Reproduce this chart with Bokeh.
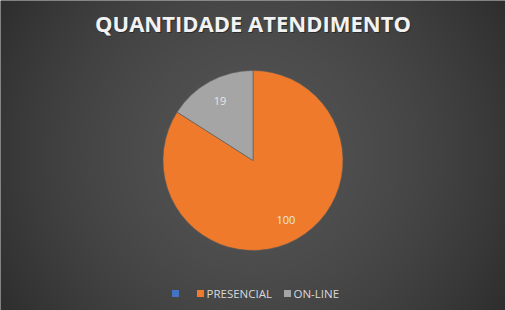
import numpy as np
from bokeh.plotting import figure
from bokeh.models import ColumnDataSource
from bokeh.core.properties import value
from bokeh.embed import file_html
from bokeh.resources import INLINE

# ---- data ----
title = "QUANTIDADE ATENDIMENTO"
categories = ["", "PRESENCIAL", "ON-LINE"]
values = [0, 100, 19]
colors = ["#4472C4", "#F07A2B", "#A5A5A5"]

W, H = 505, 310
p = figure(width=W, height=H, x_range=(0, W), y_range=(0, H),
           output_backend="svg", toolbar_location=None, min_border=0)
p.axis.visible = False
p.grid.visible = False
p.outline_line_color = None
p.background_fill_color = "#404040"
p.border_fill_color = "#404040"

# radial gradient background
yy, xx = np.mgrid[0:H, 0:W]
cx, cy = 252.0, 155.0
d = np.sqrt((xx - cx) ** 2 + (yy - cy) ** 2)
t = d / d.max()
g = (0x53 - (0x53 - 0x2E) * t ** 1.7).astype(np.uint8)
img = np.zeros((H, W), dtype=np.uint32)
v = img.view(dtype=np.uint8).reshape((H, W, 4))
v[:, :, 0] = g
v[:, :, 1] = g
v[:, :, 2] = g
v[:, :, 3] = 255
p.image_rgba(image=[img], x=0, y=0, dw=W, dh=H)

# pie
total = float(sum(values))
cum = np.cumsum([0] + values)
start = [np.pi / 2 - cum[i] / total * 2 * np.pi for i in range(len(values))]
end = [np.pi / 2 - cum[i + 1] / total * 2 * np.pi for i in range(len(values))]
PX, PY, R = 252.5, H - 160.0, 90.0
nz = [i for i, vv in enumerate(values) if vv > 0]
src_nz = ColumnDataSource(dict(start=[start[i] for i in nz], end=[end[i] for i in nz],
                               color=[colors[i] for i in nz]))
p.wedge(x=PX, y=PY, radius=R, start_angle="start", end_angle="end", direction="clock",
        fill_color="color", line_color="#5a5a5a", line_width=0.6, source=src_nz)

# data labels
lx, ly, lt = [], [], []
for i in nz:
    mid = (start[i] + end[i]) / 2
    lx.append(PX + 0.76 * R * np.cos(mid))
    ly.append(PY + 0.76 * R * np.sin(mid))
    lt.append(str(values[i]))
p.text(x=lx, y=ly, text=lt, text_align="center", text_baseline="middle",
       text_font=value("Open Sans"), text_font_size="11px", text_color="#E6E6E6")

# title (with soft shadow)
p.text(x=[W / 2 + 1], y=[H - 22 - 1.5], text=[title], text_align="center", text_baseline="middle",
       text_font=value("Open Sans"), text_font_style="bold", text_font_size="22px",
       text_color="#1a1a1a", text_alpha=0.6)
p.text(x=[W / 2], y=[H - 22], text=[title], text_align="center", text_baseline="middle",
       text_font=value("Open Sans"), text_font_style="bold", text_font_size="22px",
       text_color="#F2F2F2")

# legend
leg_x = [175, 200, 287]
leg_y = H - 293
p.scatter(x=leg_x, y=[leg_y] * 3, marker="square", size=7, fill_color=colors, line_color=None)
p.text(x=[x + 6 for x in leg_x], y=[leg_y] * 3, text=categories, text_baseline="middle",
       text_font=value("Open Sans"), text_font_size="11.5px", text_color="#D9D9D9")

open("out.html", "w").write(file_html(p, INLINE))
